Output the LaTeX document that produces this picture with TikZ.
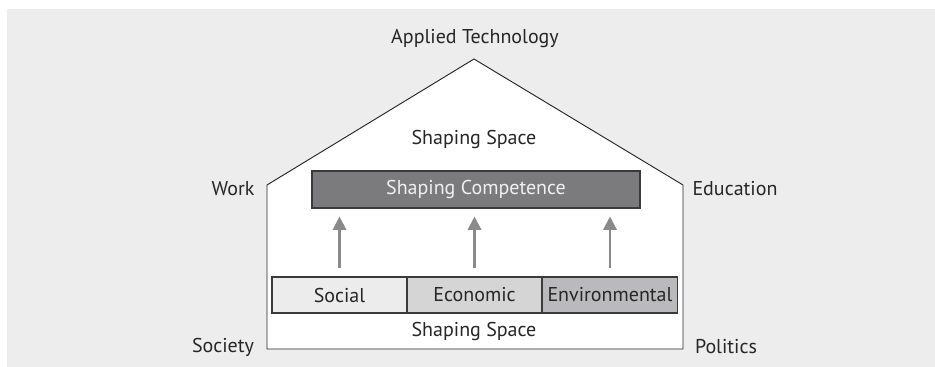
\documentclass[tikz,border=0pt]{standalone}
\usepackage{fontspec}
\setmainfont{PT Sans}
\usetikzlibrary{arrows.meta,positioning}
\definecolor{bggray}{HTML}{EDEDED}
\definecolor{compgray}{HTML}{7B7B7D}
\definecolor{socgray}{HTML}{ECECEC}
\definecolor{ecogray}{HTML}{D5D5D6}
\definecolor{envgray}{HTML}{BABABC}
\definecolor{arrgray}{HTML}{8A8A8A}
\definecolor{edgegray}{HTML}{3A3A3A}

\tikzset{
	lbl/.style={font=\fontsize{15}{17}\selectfont, text=black!85, inner sep=0pt},
	pillar/.style={draw=edgegray, line width=0.8pt, minimum height=27pt, minimum width=101.25pt, inner sep=0pt, font=\fontsize{15}{17}\selectfont, text=black!85},
	uparrow/.style={draw=arrgray, line width=1.6pt, -{Triangle[length=10pt,width=10pt]}, shorten <=6pt, shorten >=6pt}
}

\begin{document}
\begin{tikzpicture}[x=0.75pt, y=-0.75pt]
			%%%%% START %%%%%
			\useasboundingbox (0, 0) rectangle (935, 367);
			\fill[bggray] (7, 9) rectangle (935, 367);
			
			% house
			\draw[fill=white, line width=0.7pt, draw=black!85] (267, 349) -- (267, 185) -- (474, 59) -- (683, 185) -- (683, 349) -- cycle;
			
			\node[lbl] (tech) at (475, 39) {Applied Technology};
			\node[lbl] (spacetop) at (474, 140) {Shaping Space};
			\node[lbl] (work) at (233, 189) {Work};
			\node[lbl] (edu) at (735, 189) {Education};
			\node[lbl] (soc) at (223, 347) {Society};
			\node[lbl] (pol) at (726, 347) {Politics};
			\node[lbl] (spacebot) at (474, 331) {Shaping Space};
			
			% competence
			\node[draw=edgegray, fill=compgray, line width=0.8pt, minimum width=246pt, minimum height=27.75pt, inner sep=0pt, font=\fontsize{15}{17}\selectfont, text=black!6] (comp) at (476, 189.5) {Shaping Competence};
			
			% pillars
			\node[pillar, fill=socgray] (social) at (339.5, 295) {Social};
			\node[pillar, fill=ecogray] (econ) at (474.5, 295) {Economic};
			\node[pillar, fill=envgray] (env) at (610, 295) {Environmental};
			
			\draw[uparrow] (social.north) -- (social.north |- comp.south);
			\draw[uparrow] (econ.north) -- (econ.north |- comp.south);
			\draw[uparrow] (env.north) -- (env.north |- comp.south);
			%%%%% END %%%%%
\end{tikzpicture}
\end{document}
